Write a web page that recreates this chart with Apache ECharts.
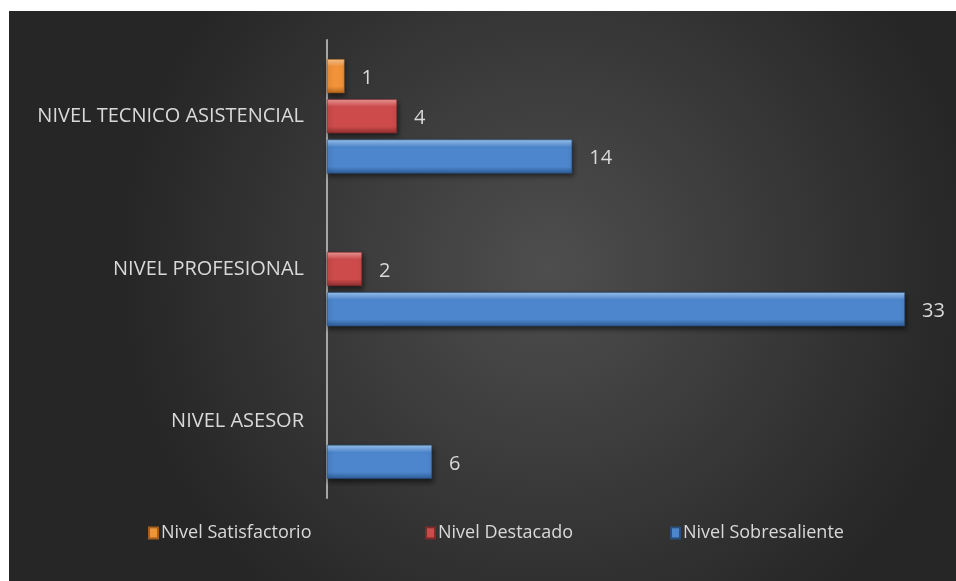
<!DOCTYPE html>
<html>
<head>
<meta charset="utf-8">
<script src="https://cdn.jsdelivr.net/npm/echarts@6/dist/echarts.min.js"></script>
<style>
  html, body { margin: 0; padding: 0; background: #ffffff; }
  #chart { width: 956px; height: 581px; }
</style>
</head>
<body>
<div id="chart"></div>
<script>
// Levels (top to bottom) and the count of staff per evaluation rating
const categories = ['NIVEL TECNICO ASISTENCIAL', 'NIVEL PROFESIONAL', 'NIVEL ASESOR'];
const satisfactorio = [1, null, null];
const destacado = [4, 2, null];
const sobresaliente = [14, 33, 6];
const seriesNames = ['Nivel Satisfactorio', 'Nivel Destacado', 'Nivel Sobresaliente'];

// Bevelled look: light top edge, base colour body, darker bottom edge
function bevel(light, mid, base, dark) {
  return {
    type: 'linear', x: 0, y: 0, x2: 0, y2: 1,
    colorStops: [
      { offset: 0, color: light },
      { offset: 0.14, color: mid },
      { offset: 0.22, color: base },
      { offset: 0.8, color: base },
      { offset: 1, color: dark }
    ]
  };
}

const palette = [
  bevel('#fcc98a', '#f9aa5c', '#f29339', '#b8661c'),
  bevel('#f49b9b', '#e06a6a', '#cd4b4b', '#8e2f2f'),
  bevel('#9cc8f4', '#6fa2e0', '#4d86cc', '#2d5b95')
];
const edgeColors = ['#a85e1c', '#7e2a2a', '#27507f'];

const textColor = '#d9d9d9';
const fontFamily = 'Open Sans';

const labelStyle = {
  show: true,
  position: 'right',
  distance: 17,
  offset: [0, 2],
  color: textColor,
  fontFamily: fontFamily,
  fontSize: 20
};

function makeSeries(name, data, idx) {
  return {
    name: name,
    type: 'bar',
    data: data,
    barGap: '18%',
    barCategoryGap: '25%',
    itemStyle: {
      color: palette[idx],
      borderColor: edgeColors[idx],
      borderWidth: 0.6,
      shadowColor: 'rgba(0,0,0,0.55)',
      shadowBlur: 5,
      shadowOffsetY: 3,
      shadowOffsetX: 1
    },
    label: labelStyle,
    emphasis: { disabled: true }
  };
}

// One legend entry per slot, spaced like the plot's legend row
const legendLefts = [143, 420, 665];
const legends = seriesNames.map((name, i) => ({
  data: [name],
  left: legendLefts[i],
  top: 519,
  icon: 'rect',
  itemWidth: 9,
  itemHeight: 11,
  itemGap: 0,
  textStyle: { color: textColor, fontFamily: fontFamily, fontSize: 18, padding: [0, 0, 0, -2] }
}));

const chart = echarts.init(document.getElementById('chart'), null, { renderer: 'canvas' });

chart.setOption({
  backgroundColor: '#ffffff',
  animation: false,
  graphic: [{
    type: 'rect',
    z: -10,
    shape: { x: 9, y: 11, width: 947, height: 570 },
    style: {
      fill: {
        type: 'radial', x: 0.57, y: 0.45, r: 0.75,
        colorStops: [
          { offset: 0, color: '#4e4e4e' },
          { offset: 1, color: '#262626' }
        ]
      }
    },
    silent: true
  }],
  grid: { left: 327, right: 16, top: 40, bottom: 83 },
  legend: legends,
  xAxis: {
    type: 'value',
    min: 0,
    max: 35,
    show: false
  },
  yAxis: {
    type: 'category',
    inverse: true,
    data: categories,
    axisLine: { show: true, lineStyle: { color: '#a6a6a6', width: 2 } },
    axisTick: { show: false },
    axisLabel: {
      color: textColor,
      fontFamily: fontFamily,
      fontSize: 20,
      margin: 23,
      padding: [5, 0, 0, 0]
    },
    splitLine: { show: false }
  },
  series: [
    makeSeries(seriesNames[0], satisfactorio, 0),
    makeSeries(seriesNames[1], destacado, 1),
    makeSeries(seriesNames[2], sobresaliente, 2)
  ]
});
</script>
</body>
</html>
